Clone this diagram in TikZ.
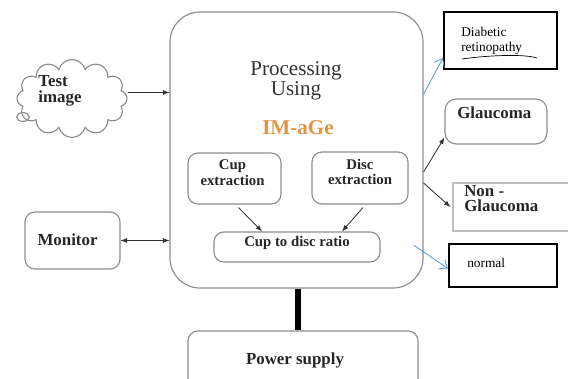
\documentclass[tikz,border=0pt]{standalone}
\usepackage{fontspec}
\setmainfont{Liberation Serif}
\usetikzlibrary{arrows,arrows.meta,calc,shapes.symbols}
\definecolor{linkblue}{RGB}{91,155,213}
\definecolor{imorange}{RGB}{222,150,70}

\tikzset{
  box/.style={draw=black!45, line width=0.8pt, rounded corners=7pt, inner sep=0pt},
  result/.style={draw=black, line width=1.5pt, inner sep=0pt},
  lbl/.style={font=\bfseries\fontsize{12}{11}\selectfont, text=black!85, align=left, inner sep=0pt},
  small/.style={font=\bfseries\fontsize{10.5}{11}\selectfont, text=black!85, align=center, inner sep=0pt},
  plain/.style={font=\fontsize{9.5}{10.5}\selectfont, align=left, inner sep=0pt},
  arr/.style={-latex, black!80, line width=0.6pt},
  bluearr/.style={-{Straight Barb[length=5pt,width=8pt]}, linkblue, line width=0.6pt}
}

\begin{document}
\begin{tikzpicture}[x=0.025cm,y=-0.025cm]

\useasboundingbox (0,0) rectangle (568,379);
\clip (0,0) rectangle (568,379);

% main processing block
\node[box, rounded corners=0.75cm, minimum width=6.325cm, minimum height=6.9cm] (proc) at (296.5,150) {};
\node[font=\fontsize{15}{13}\selectfont, text=black!80, align=center] (proctxt) at (296,81) {Processing\\Using};
\node[font=\bfseries\fontsize{15}{17}\selectfont, text=imorange] (imtxt) at (298,128) {IM-aGe};

\node[box, minimum width=2.325cm, minimum height=1.275cm] (cup) at (234.5,178.5) {};
\node[small] (cuptxt) at ($(cup)+(-2,-6)$) {Cup\\extraction};
\node[box, minimum width=2.4cm, minimum height=1.3cm] (disc) at (360,178) {};
\node[small] (disctxt) at ($(disc)+(0,-6)$) {Disc\\extraction};
\node[box, minimum width=4.15cm, minimum height=0.75cm] (ratio) at (297,247) {};
\node[small] (ratiotxt) at ($(ratio)+(0,-4)$) {Cup to disc ratio};

\draw[arr] ($(cup.south)+(4,3)$) -- ($(ratio.north)+(-35,0)$);
\draw[arr] ($(disc.south)+(3,3)$) -- ($(ratio.north)+(45,0)$);

% input and output
\node[cloud, cloud puffs=12, cloud ignores aspect, draw=black!45, line width=0.8pt,
      minimum width=2.75cm, minimum height=1.95cm] (test) at (72,98.5) {};
\node[lbl] (testtxt) at (60,91) {Test\\image};
\draw[black!45, line width=0.8pt] (23,117) ellipse [x radius=0.16cm, y radius=0.11cm];
\coordinate (testout) at ($(test.east)+(0,-6)$);
\draw[arr] (testout) -- (testout -| proc.west);

\node[box, minimum width=2.375cm, minimum height=1.425cm] (monitor) at (72.5,240.5) {};
\node[lbl] (montxt) at (67.5,240) {Monitor};
\draw[latex-latex, black!80, line width=0.6pt] (monitor.east) -- (monitor.east -| proc.west);

% power
\node[box, minimum width=5.75cm, minimum height=1.5cm] (power) at (303,361) {};
\node[lbl] (powtxt) at (295,360) {Power supply};
\draw[line width=4.3pt] (proc.south -| 298,0) -- (power.north -| 298,0);

% results
\node[result, minimum width=2.825cm, minimum height=1.425cm] (diab) at (500.5,40.5) {};
\node[plain, anchor=north west] (diabtxt) at (461,27) {Diabetic\\retinopathy};
\draw[line width=0.5pt] (462,59) .. controls (490,55) and (525,54) .. (537,58);

\node[box, rounded corners=8pt, minimum width=2.55cm, minimum height=1.125cm] (glau) at (496,121.5) {};
\node[lbl, anchor=west] (glautxt) at (457,113) {Glaucoma};

\node[draw=black!25, line width=0.8pt, minimum width=3.4cm, minimum height=1.2cm, inner sep=0pt] (nong) at (521,207) {};
\node[lbl, anchor=north west] (nongtxt) at (464,185) {Non -\\Glaucoma};

\node[result, minimum width=2.7cm, minimum height=1.075cm] (normal) at (503,265.5) {};
\node[plain, anchor=west] (normtxt) at (467,263) {normal};

\draw[bluearr] ($(proc.east)+(0,-56)$) -- ($(diab.south west)+(0,-12)$);
\draw[arr] ($(proc.east)+(0,22)$) -- ($(glau.south west)+(0,-7)$);
\draw[arr] ($(proc.east)+(0,33)$) -- ($(nong.west)+(-2,0)$);
\draw[bluearr] ($(proc.east)+(-10,95)$) -- ($(normal.west)+(0,3)$);

\end{tikzpicture}
\end{document}
